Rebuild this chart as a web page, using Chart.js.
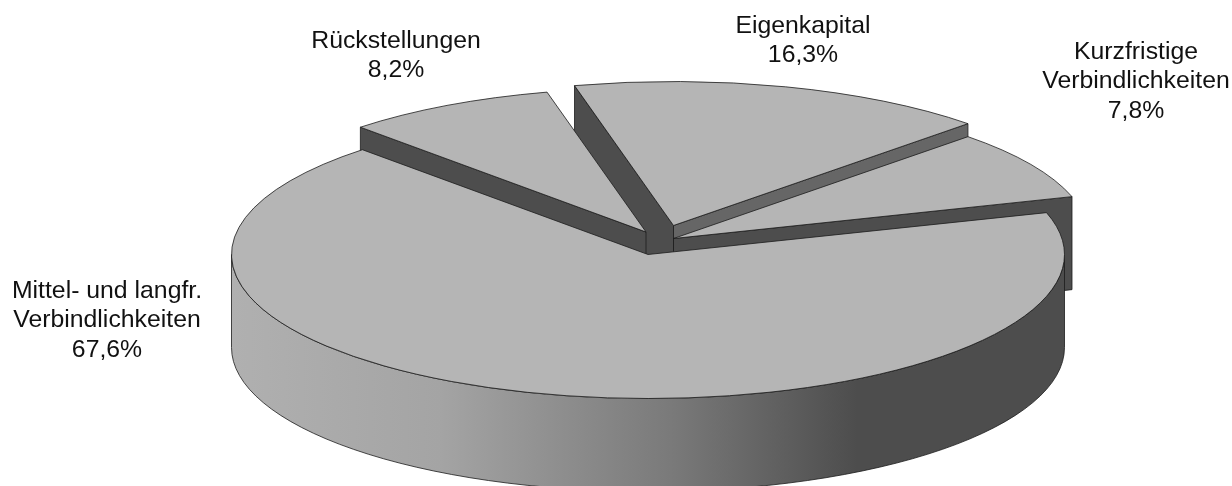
<!DOCTYPE html>
<html lang="de">
<head>
<meta charset="UTF-8">
<title>Passiva</title>
<style>
  html, body { margin: 0; padding: 0; background: #fff; }
  canvas { display: block; }
</style>
</head>
<body>
<canvas id="myChart" width="1232" height="486"></canvas>
<script src="https://cdn.jsdelivr.net/npm/chart.js"></script>
<script>
// Daten, im Uhrzeigersinn ab der Kante rechts hinten
const categories = ['Mittel- und langfr. Verbindlichkeiten', 'Rückstellungen', 'Eigenkapital', 'Kurzfristige Verbindlichkeiten'];
const shares = [67.6, 8.2, 16.3, 7.8];
const labelLines = [['Mittel- und langfr.', 'Verbindlichkeiten'], ['Rückstellungen'], ['Eigenkapital'], ['Kurzfristige', 'Verbindlichkeiten']];

// Aussehen der 3D-Torte
const centerX = 648.5, centerY = 254.5, radiusX = 416.5, radiusY = 144, depth = 93;
const shifts = [[-0.5, 0], [-2.5, -22.5], [25, -29], [25, -16]];
const labelAnchors = [[107, 291], [396, 41], [803, 26], [1136, 52]];
const drawOrder = [2, 1, 3, 0];
const topColor = '#b5b5b5', wallDark = '#4d4d4d', wallMid = '#666666', lineColor = '#1c1c1c';

function cornerOf(a, sx, sy) {
    return [centerX + sx + radiusX * Math.cos(a), centerY + sy + radiusY * Math.sin(a)];
}

// Seitenwand entlang einer Schnittkante
function radialWall(ctx, a, sx, sy, color) {
    const [px, py] = cornerOf(a, sx, sy);
    const ax = centerX + sx, ay = centerY + sy;
    ctx.beginPath();
    ctx.moveTo(ax, ay);
    ctx.lineTo(px, py);
    ctx.lineTo(px, py + depth);
    ctx.lineTo(ax, ay + depth);
    ctx.closePath();
    ctx.fillStyle = color;
    ctx.fill();
    ctx.stroke();
}

// Vordere Mantelfläche, nur das Stück der unteren Ellipsenhälfte
function outerWall(ctx, start, end, sx, sy) {
    const a0 = Math.max(start, 0), a1 = Math.min(end, Math.PI);
    if (a1 <= a0) return;
    const g = ctx.createLinearGradient(centerX - radiusX, 0, centerX + radiusX, 0);
    g.addColorStop(0, '#b0b0b0');
    g.addColorStop(0.25, '#a4a4a4');
    g.addColorStop(0.526, '#7a7a7a');
    g.addColorStop(0.75, '#4d4d4d');
    g.addColorStop(1, '#4d4d4d');
    ctx.beginPath();
    ctx.ellipse(centerX + sx, centerY + sy + depth, radiusX, radiusY, 0, a0, a1);
    ctx.ellipse(centerX + sx, centerY + sy, radiusX, radiusY, 0, a1, a0, true);
    ctx.closePath();
    ctx.fillStyle = g;
    ctx.fill();
    ctx.stroke();
}

function drawTop(ctx, el, sx, sy) {
    const k = el.getProps(['x', 'y', 'outerRadius', 'startAngle', 'endAngle'], true);
    // Oberseite zeichnet das Arc-Element selbst, nur gestaucht
    ctx.save();
    ctx.translate(centerX + sx, centerY + sy);
    ctx.scale(radiusX / k.outerRadius, radiusY / k.outerRadius);
    ctx.translate(-k.x, -k.y);
    el.draw(ctx);
    ctx.restore();
    // Umriss ohne Verzerrung der Linienbreite
    ctx.beginPath();
    ctx.moveTo(centerX + sx, centerY + sy);
    ctx.ellipse(centerX + sx, centerY + sy, radiusX, radiusY, 0, k.startAngle, k.endAngle);
    ctx.closePath();
    ctx.stroke();
}

const pie3d = {
    id: 'pie3d',
    beforeDatasetsDraw(chart) {
        const ctx = chart.ctx;
        const arcs = chart.getDatasetMeta(0).data;
        ctx.save();
        ctx.strokeStyle = lineColor;
        ctx.lineWidth = 0.8;
        ctx.lineJoin = 'round';
        drawOrder.forEach((i) => {
            const el = arcs[i];
            const [sx, sy] = shifts[i];
            const a = el.getProps(['startAngle', 'endAngle'], true);
            if (i === 1) radialWall(ctx, a.startAngle, sx, sy, wallDark);
            if (i === 2) {
                radialWall(ctx, a.startAngle, sx, sy, wallDark);
                radialWall(ctx, a.endAngle, sx, sy, wallMid);
            }
            if (i === 3) radialWall(ctx, a.endAngle, sx, sy, wallDark);
            if (i === 0) outerWall(ctx, a.startAngle, a.endAngle, sx, sy);
            drawTop(ctx, el, sx, sy);
        });

        // Beschriftung
        ctx.fillStyle = '#111';
        ctx.font = '24.8px "Liberation Sans", Arial, sans-serif';
        ctx.textAlign = 'center';
        ctx.textBaseline = 'middle';
        shares.forEach((v, i) => {
            const lines = labelLines[i].concat(v.toFixed(1).replace('.', ',') + '%');
            lines.forEach((t, n) => {
                ctx.fillText(t, labelAnchors[i][0], labelAnchors[i][1] + n * 29.5);
            });
        });
        ctx.restore();
        return false;
    }
};

new Chart(document.getElementById('myChart'), {
    type: 'pie',
    data: {
        labels: categories,
        datasets: [{
            data: shares,
            backgroundColor: topColor,
            borderWidth: 0
        }]
    },
    options: {
        responsive: false,
        animation: false,
        rotation: 73.1,
        plugins: {
            legend: { display: false },
            tooltip: { enabled: false }
        }
    },
    plugins: [pie3d]
});
</script>
</body>
</html>
